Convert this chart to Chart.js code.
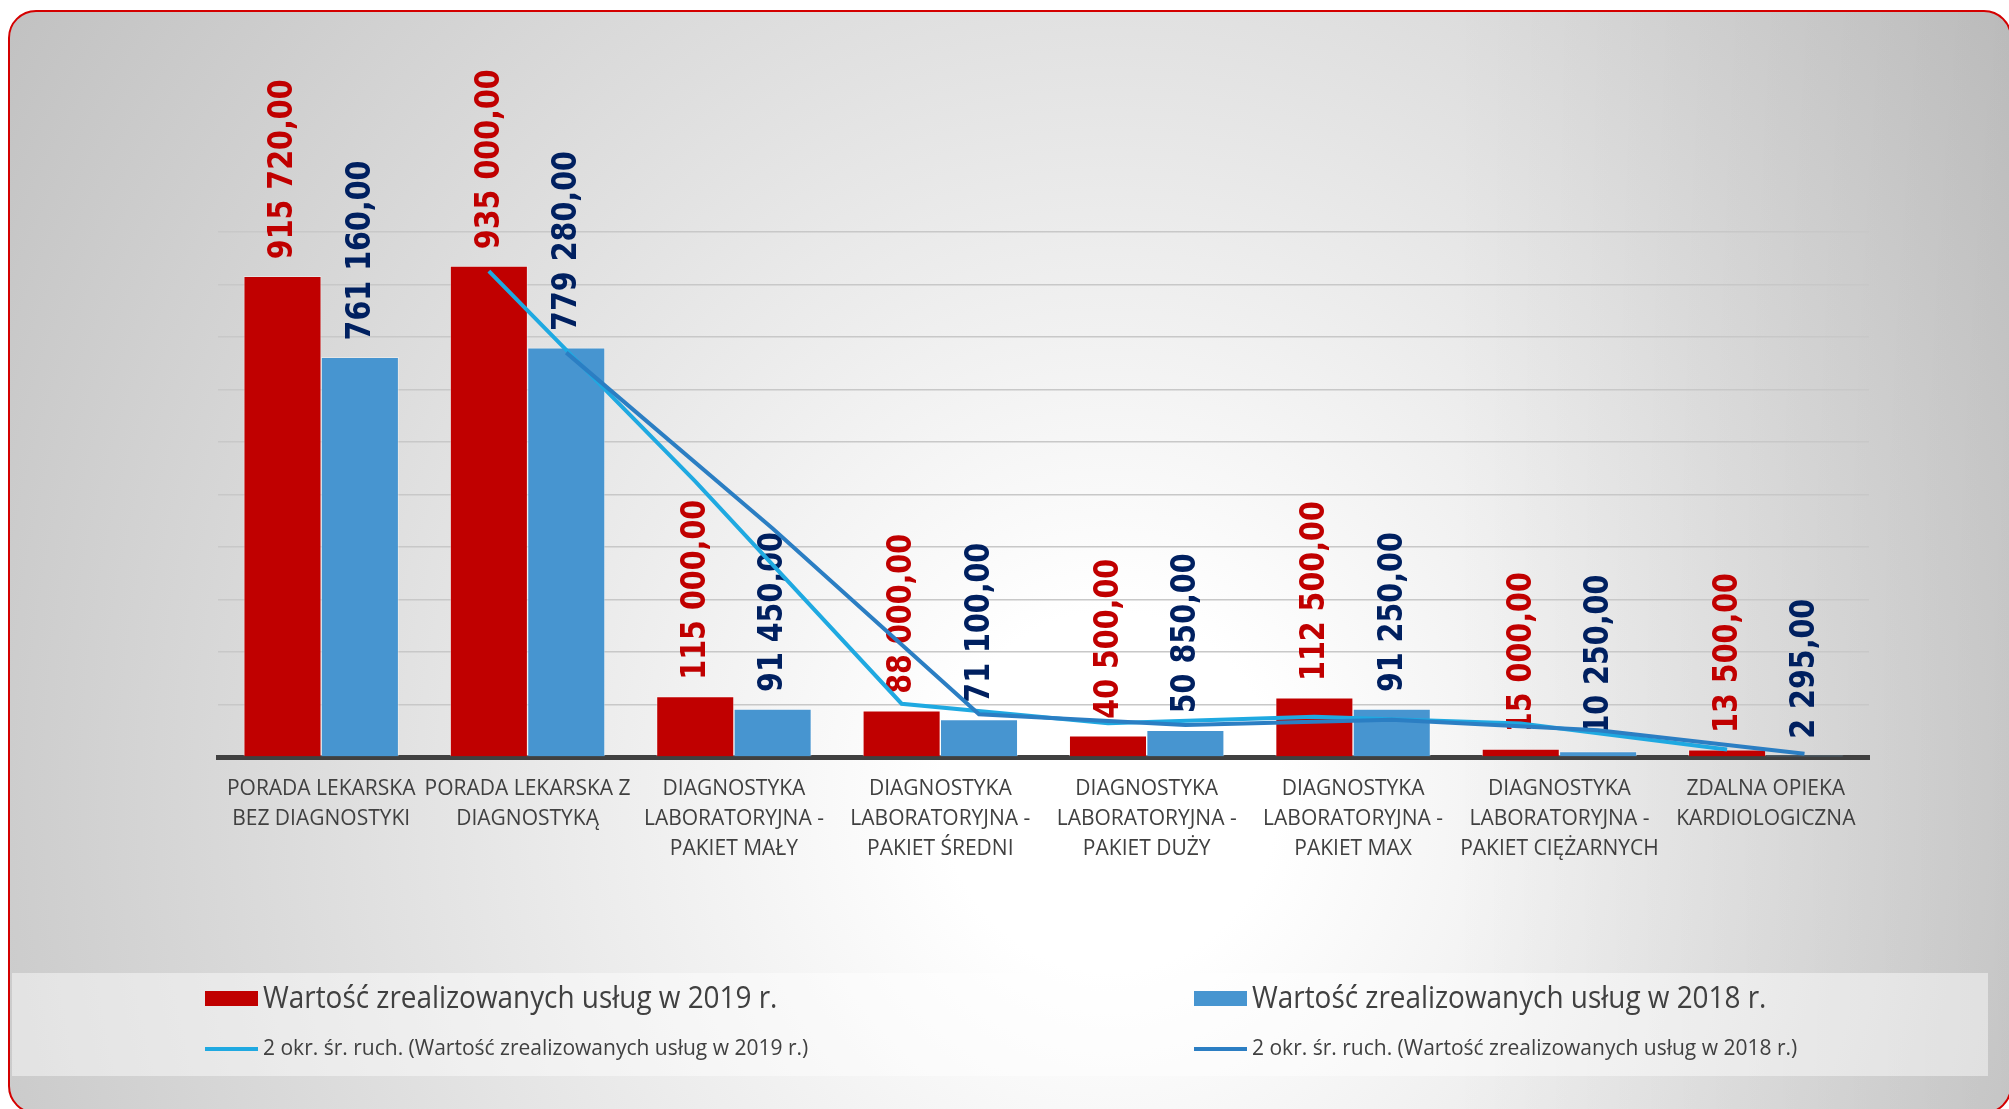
<!DOCTYPE html>
<html>
<head>
<meta charset="utf-8">
<script src="https://cdn.jsdelivr.net/npm/chart.js@4"></script>
<style>
  html, body { margin: 0; padding: 0; background: #fff; }
  #wrap { position: relative; width: 2009px; height: 1109px; overflow: hidden; }
  #card {
    position: absolute; left: 8px; top: 10px; width: 2004px; height: 1104px;
    border: 2px solid #d40000; border-radius: 28px; box-sizing: border-box;
    background:
      linear-gradient(to right, rgba(0,0,0,0) 72%, rgba(0,0,0,0.08) 100%),
      radial-gradient(1400px 1500px at 1100px 780px, #ffffff 0%, #ffffff 12%, #bdbdbd 100%);
  }
  #chart { position: absolute; left: 0; top: 0; }
</style>
</head>
<body>
<div id="wrap">
  <div id="card"></div>
  <canvas id="chart" width="2009" height="1109"></canvas>
</div>
<script>
// categories
var categories = [
    ['PORADA LEKARSKA', 'BEZ DIAGNOSTYKI'],
    ['PORADA LEKARSKA Z', 'DIAGNOSTYKĄ'],
    ['DIAGNOSTYKA', 'LABORATORYJNA -', 'PAKIET MAŁY'],
    ['DIAGNOSTYKA', 'LABORATORYJNA -', 'PAKIET ŚREDNI'],
    ['DIAGNOSTYKA', 'LABORATORYJNA -', 'PAKIET DUŻY'],
    ['DIAGNOSTYKA', 'LABORATORYJNA -', 'PAKIET MAX'],
    ['DIAGNOSTYKA', 'LABORATORYJNA -', 'PAKIET CIĘŻARNYCH'],
    ['ZDALNA OPIEKA', 'KARDIOLOGICZNA']
];

// values
var values2019 = [915720, 935000, 115000, 88000, 40500, 112500, 15000, 13500];
var values2018 = [761160, 779280, 91450, 71100, 50850, 91250, 10250, 2295];

// trend lines (2 okr. śr. ruch.), first point is empty
var trend2019 = [null, 925360, 525000, 101500, 64250, 76500, 63750, 14250];
var trend2018 = [null, 770220, 435365, 81275, 60975, 71050, 50750, 6272.5];

var names = [
    'Wartość zrealizowanych usług w 2019 r.',
    'Wartość zrealizowanych usług w 2018 r.',
    '2 okr. śr. ruch. (Wartość zrealizowanych usług w 2019 r.)',
    '2 okr. śr. ruch. (Wartość zrealizowanych usług w 2018 r.)'
];

var narrow = '"Liberation Sans Narrow", "Open Sans", sans-serif';
var barShift = 0.1875; // half a bar, in category units

function fmt(v) {
    let s = Math.round(v).toString().replace(/\B(?=(\d{3})+(?!\d))/g, ' ');
    return s + ',00';
}

function toPoints(arr, shift) {
    let pts = [];
    for (let i = 0; i < arr.length; i++) {
        if (arr[i] != null) pts.push({ x: i + shift, y: arr[i] });
    }
    return pts;
}

const barLabels = {
    id: 'barLabels',
    beforeDatasetsDraw(chart) {
        let ctx = chart.ctx;
        chart.data.datasets.forEach(function (ds, di) {
            if (ds.type !== 'bar') return;
            let meta = chart.getDatasetMeta(di);
            meta.data.forEach(function (el, i) {
                ctx.save();
                ctx.translate(el.x + 1, el.y - 17);
                ctx.rotate(-Math.PI / 2);
                ctx.scale(0.84, 1);
                ctx.font = 'bold 34px "DejaVu Sans", sans-serif';
                ctx.fillStyle = ds.labelColor;
                ctx.textAlign = 'left';
                ctx.textBaseline = 'middle';
                ctx.fillText(fmt(ds.data[i].y), 0, 0);
                ctx.restore();
            });
        });
    }
};

const customLegend = {
    id: 'customLegend',
    afterDraw(chart) {
        let ctx = chart.ctx;
        let ds = chart.data.datasets;
        ctx.save();
        ctx.fillStyle = 'rgba(255,255,255,0.45)';
        ctx.fillRect(12, 973, 1976, 103);
        let cols = [205, 1194];
        ctx.textAlign = 'left';
        ctx.textBaseline = 'middle';
        for (let k = 0; k < 2; k++) {
            // bar entry
            ctx.fillStyle = ds[k].backgroundColor;
            ctx.fillRect(cols[k], 991, 53, 15);
            ctx.fillStyle = '#404040';
            ctx.font = '31px ' + narrow;
            ctx.save();
            ctx.translate(cols[k] + 58, 999);
            ctx.scale(0.9, 1);
            ctx.fillText(ds[k].label, 0, 0);
            ctx.restore();
            // line entry
            ctx.strokeStyle = ds[k + 2].borderColor;
            ctx.lineWidth = 4;
            ctx.beginPath();
            ctx.moveTo(cols[k], 1049);
            ctx.lineTo(cols[k] + 53, 1049);
            ctx.stroke();
            ctx.font = '21px ' + narrow;
            ctx.fillText(ds[k + 2].label, cols[k] + 58, 1049);
        }
        ctx.restore();
    }
};

var ctx = document.getElementById('chart');
new Chart(ctx, {
    data: {
        labels: categories,
        datasets: [
            {
                type: 'bar', label: names[0], data: toPoints(values2019, -barShift),
                xAxisID: 'xl', grouped: false,
                backgroundColor: '#C00000', borderColor: 'rgba(255,255,255,0.35)', borderWidth: 1,
                labelColor: '#C00000', order: 2,
                categoryPercentage: 1.0, barPercentage: 1.0
            },
            {
                type: 'bar', label: names[1], data: toPoints(values2018, barShift),
                xAxisID: 'xl', grouped: false,
                backgroundColor: '#4795D0', borderColor: 'rgba(255,255,255,0.35)', borderWidth: 1,
                labelColor: '#002060', order: 2,
                categoryPercentage: 1.0, barPercentage: 1.0
            },
            {
                type: 'line', label: names[2], data: toPoints(trend2019, -barShift),
                xAxisID: 'xl', borderColor: '#1FA9E1', borderWidth: 4,
                pointRadius: 0, tension: 0, fill: false, order: 1
            },
            {
                type: 'line', label: names[3], data: toPoints(trend2018, barShift),
                xAxisID: 'xl', borderColor: '#2B7EC3', borderWidth: 4,
                pointRadius: 0, tension: 0, fill: false, order: 0
            }
        ]
    },
    options: {
        responsive: false,
        animation: false,
        layout: { padding: { left: 218, right: 140, top: 232, bottom: 0 } },
        plugins: {
            legend: { display: false },
            tooltip: { enabled: false }
        },
        scales: {
            x: {
                type: 'category',
                offset: true,
                grid: { display: false, drawTicks: false, offset: true },
                border: { display: true, color: '#404040', width: 5 },
                ticks: {
                    color: '#404040',
                    font: { family: narrow, size: 21, lineHeight: 1.43 },
                    padding: 17,
                    maxRotation: 0,
                    autoSkip: false
                },
                afterFit: function (s) { s.height = 352; }
            },
            xl: {
                type: 'linear', display: false, min: -0.5, max: 7.5,
                offset: false, grid: { offset: false }
            },
            y: {
                min: 0,
                max: 1000000,
                ticks: { display: false, stepSize: 100000 },
                grid: { color: '#C8C8C8', lineWidth: 1.5, drawTicks: false },
                border: { display: false },
                afterFit: function (s) { s.width = 0; }
            }
        }
    },
    plugins: [barLabels, customLegend]
});
</script>
</body>
</html>
